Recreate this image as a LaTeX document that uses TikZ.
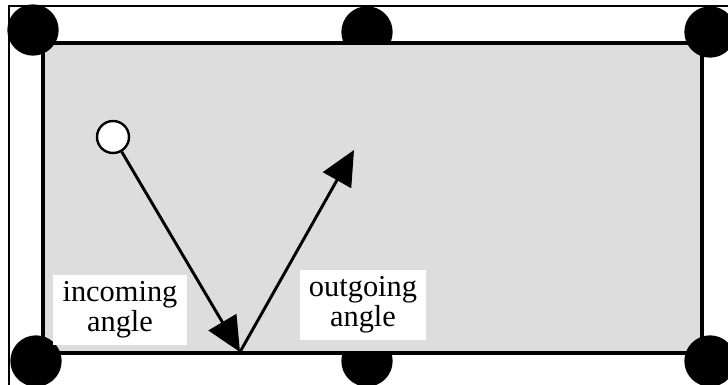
\documentclass[tikz,border=0pt]{standalone}
\usepackage{fontspec}
\setmainfont{Liberation Serif}
\usetikzlibrary{arrows.meta}
\begin{document}
\begin{tikzpicture}[x=0.75pt,y=-0.75pt,
  ball/.style={circle,fill=black,draw=none,minimum size=38.5pt,inner sep=0pt},
  label/.style={fill=white,align=center,font=\fontsize{22.8}{22.5}\selectfont,inner xsep=7pt,inner ysep=5pt},
  shot/.style={line width=2.2pt,-{Triangle[length=26pt,width=24pt]}}]
\useasboundingbox (0,0) rectangle (728,385);
\clip (0,0) rectangle (728,385);
\definecolor{felt}{HTML}{DDDDDD}
\draw[line width=2pt,fill=white] (9,6) rectangle (740,395);
\node[ball] (tm) at (367,32) {};
\node[ball] (bm) at (367,361) {};
\draw[line width=2.4pt,fill=felt] (43,43) rectangle (702,353);
\node[ball] (tl) at (33,30) {};
\node[ball] (tr) at (710,32) {};
\node[ball] (bl) at (36,361) {};
\node[ball] (br) at (710,361) {};
\node[label] (inl) at (120,310) {incoming\\angle};
\node[label] (outl) at (363,305) {outgoing\\angle};
\coordinate (bounce) at (240,352);
\coordinate (aim) at (354,150);
\node[circle,draw=black,fill=white,line width=1.8pt,minimum size=24pt,inner sep=0pt] (cue) at (113,137) {};
\draw[shot] (cue) -- (bounce);
\draw[shot] (bounce) -- (aim);
\end{tikzpicture}
\end{document}
